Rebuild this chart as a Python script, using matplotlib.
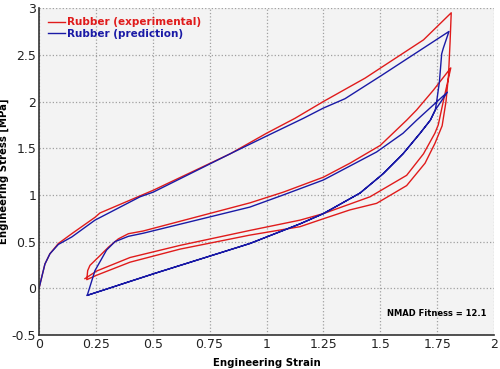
import matplotlib
matplotlib.use('Agg')
import matplotlib.pyplot as plt

# experimental curve: load -> unload -> reload -> unload
exp_strain = [0.0, 0.012, 0.026, 0.048, 0.085, 0.144, 0.246, 0.268, 0.502, 0.84, 1.0, 1.125,
              1.25, 1.367, 1.433, 1.69, 1.812,
              1.807, 1.80, 1.789, 1.772, 1.74, 1.697, 1.616, 1.484, 1.367, 1.25, 1.147,
              0.927, 0.62, 0.40, 0.253, 0.21,
              0.214, 0.224, 0.268, 0.305, 0.349, 0.393, 0.458, 0.927, 1.074, 1.25, 1.367,
              1.50, 1.616, 1.66, 1.733, 1.81,
              1.777, 1.755, 1.74, 1.69, 1.616, 1.455, 1.25, 1.147, 0.927, 0.62, 0.40,
              0.253, 0.202]
exp_stress = [0.0, 0.12, 0.26, 0.37, 0.48, 0.585, 0.76, 0.807, 1.05, 1.44, 1.66, 1.82,
              2.0, 2.16, 2.25, 2.66, 2.95,
              2.64, 2.28, 2.0, 1.74, 1.55, 1.34, 1.10, 0.91, 0.84, 0.745, 0.66,
              0.57, 0.42, 0.28, 0.14, 0.093,
              0.19, 0.246, 0.35, 0.44, 0.53, 0.585, 0.614, 0.915, 1.03, 1.19, 1.34,
              1.53, 1.80, 1.91, 2.12, 2.36,
              2.0, 1.75, 1.66, 1.44, 1.21, 0.98, 0.80, 0.73, 0.62, 0.46, 0.33,
              0.185, 0.104]

# prediction curve: load -> unload -> reload -> unload
pred_strain = [0.0, 0.012, 0.026, 0.048, 0.085, 0.144, 0.246, 0.444, 0.502, 0.84, 1.0, 1.162,
               1.25, 1.345, 1.506, 1.802,
               1.777, 1.77, 1.76, 1.748, 1.742, 1.72, 1.675, 1.60, 1.514, 1.5, 1.411,
               1.25, 1.147, 0.927, 0.502, 0.212,
               0.246, 0.297, 0.334, 0.393, 0.458, 0.927, 1.074, 1.25, 1.484, 1.60, 1.66,
               1.795,
               1.742, 1.72, 1.675, 1.60, 1.514, 1.411, 1.25, 1.147, 0.927, 0.502, 0.212]
pred_stress = [0.0, 0.12, 0.26, 0.37, 0.47, 0.55, 0.73, 0.98, 1.03, 1.44, 1.63, 1.82,
               1.93, 2.03, 2.28, 2.75,
               2.57, 2.51, 2.21, 2.0, 1.91, 1.80, 1.66, 1.44, 1.23, 1.20, 1.02,
               0.80, 0.69, 0.48, 0.155, -0.075,
               0.19, 0.41, 0.50, 0.557, 0.59, 0.87, 1.0, 1.16, 1.46, 1.66, 1.80,
               2.10,
               1.91, 1.80, 1.66, 1.44, 1.23, 1.02, 0.80, 0.69, 0.48, 0.155, -0.075]

xticks = [0, 0.25, 0.5, 0.75, 1, 1.25, 1.5, 1.75, 2]
xticklabels = ['0', '0.25', '0.5', '0.75', '1', '1.25', '1.5', '1.75', '2']
yticks = [-0.5, 0, 0.5, 1, 1.5, 2, 2.5, 3]
yticklabels = ['-0.5', '0', '0.5', '1', '1.5', '2', '2.5', '3']

red = '#e01b1b'
blue = '#1a1aa6'

fig = plt.figure(figsize=(5, 3.69), dpi=100)
ax = fig.add_axes([0.078, 0.092, 0.91, 0.886])
ax.set_facecolor('#f3f3f3')

ax.plot(exp_strain, exp_stress, color=red, lw=1.0, label='Rubber (experimental)')
ax.plot(pred_strain, pred_stress, color=blue, lw=1.0, label='Rubber (prediction)')

ax.set_xlim(0, 2)
ax.set_ylim(-0.5, 3)
ax.set_xticks(xticks)
ax.set_xticklabels(xticklabels)
ax.set_yticks(yticks)
ax.set_yticklabels(yticklabels)
ax.tick_params(length=0, labelsize=9, pad=2, colors='#222222')
ax.grid(True, linestyle=':', color='#a0a0a0', lw=0.9)

for s in ['top', 'right']:
    ax.spines[s].set_visible(False)
for s in ['left', 'bottom']:
    ax.spines[s].set_color('#333333')
    ax.spines[s].set_linewidth(1.2)

ax.set_xlabel('Engineering Strain', fontsize=7.3, fontweight='bold', labelpad=5)
ax.set_ylabel('Engineering Stress [MPa]', fontsize=7.3, fontweight='bold', labelpad=2)

leg = ax.legend(loc='upper left', frameon=False, handlelength=1.6,
                handletextpad=0.2, borderaxespad=0.5, labelspacing=0.15,
                prop={'weight': 'bold', 'size': 7.5})
for text, c in zip(leg.get_texts(), [red, blue]):
    text.set_color(c)

ax.text(1.965, -0.27, 'NMAD Fitness = 12.1', fontsize=6, fontweight='bold',
        ha='right', va='center')

fig.savefig('out.png', dpi=100)
